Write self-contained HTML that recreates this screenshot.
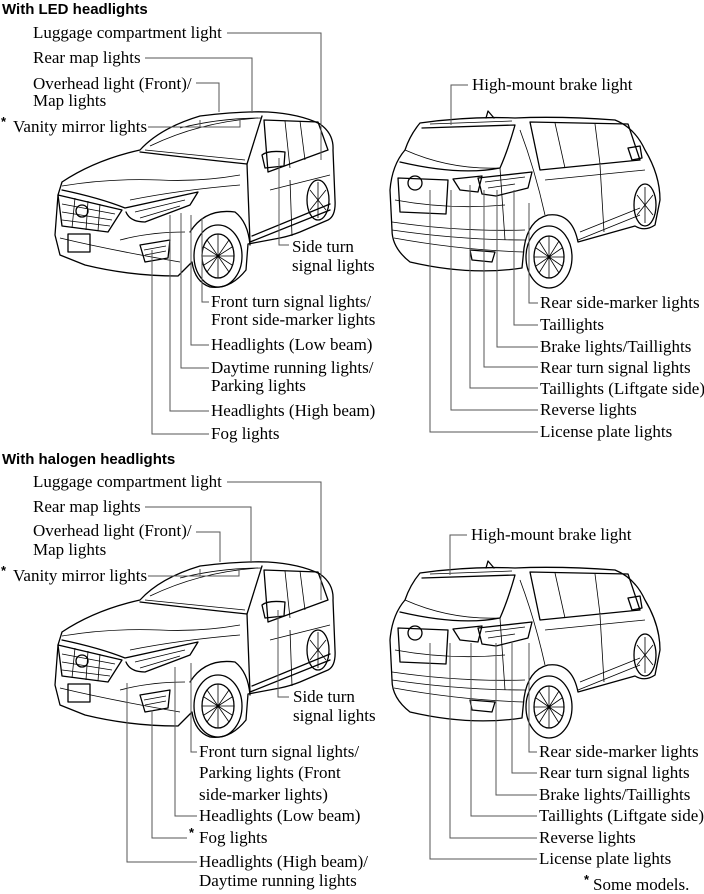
<!DOCTYPE html>
<html><head><meta charset="utf-8"><style>
html,body{margin:0;padding:0;background:#fff;}
svg{display:block;}
.t{font-family:"Liberation Serif",serif;font-size:17px;fill:#000;}
.s{font-family:"Liberation Sans",sans-serif;font-size:13px;font-weight:bold;fill:#000;}
.h{font-family:"Liberation Sans",sans-serif;font-size:15px;font-weight:bold;fill:#000;}
.l{fill:none;stroke:#555;stroke-width:1;}
.c{fill:none;stroke:#000;stroke-width:1.3;stroke-linejoin:round;stroke-linecap:round;}
.c2{fill:none;stroke:#000;stroke-width:0.8;}
</style></head><body>
<svg width="704" height="894" viewBox="0 0 704 894" xmlns="http://www.w3.org/2000/svg">
<defs>
<g id="front">
 <path class="c" d="M58,195 L62,182 Q95,160 140,150 Q160,128 200,116 Q240,111 268,112 Q300,114 320,124 Q334,134 333,150 L335,200 Q336,216 328,220 L300,232 Q290,236 280,238 L248,244 L246,270 Q230,290 210,287 Q195,282 192,262 L178,276 Q130,276 85,265 L60,255 L55,235 Z"/>
 <path class="c" d="M140,152 Q190,158 247,164 L262,116"/>
 <path class="c2" d="M145,150 Q195,155 245,160 M150,146 Q200,122 258,118"/>
 <path class="c" d="M247,164 L250,242"/>
 <path class="c2" d="M62,186 Q110,178 160,180 Q200,182 240,175 M130,200 Q180,190 240,185 M120,240 Q150,232 185,232 M60,238 Q110,250 180,262"/>
 <path class="c" d="M62,190 Q100,198 125,208 L198,192 L190,205 L145,222 Q130,222 126,212"/>
 <path class="c2" d="M135,212 L185,200 M140,218 L180,206"/>
 <path class="c" d="M58,195 L62,226 L108,232 L122,210 Z"/>
 <path class="c2" d="M62,204 L115,214 M62,212 L112,220 M62,220 L110,226 M75,198 L72,228 M88,201 L86,230 M100,204 L98,231"/>
 <circle class="c" cx="82" cy="211" r="6"/>
 <rect class="c" x="68" y="234" width="22" height="18"/>
 <path class="c" d="M140,245 L170,240 L168,258 L145,262 Z"/>
 <path class="c2" d="M144,250 L166,246 M145,255 L166,251"/>
 <ellipse class="c" cx="218" cy="256" rx="24" ry="31"/>
 <ellipse class="c" cx="218" cy="256" rx="16" ry="22"/>
 <path class="c2" d="M218,234 L218,278 M202,256 L234,256 M207,240 L229,272 M229,240 L207,272 M204,247 L232,265 M232,247 L204,265"/>
 <path class="c" d="M190,232 Q205,208 235,212 Q248,222 250,245"/>
 <path class="c" d="M250,242 L330,210"/>
 <path class="c" d="M252,236 L330,204"/>
 <ellipse class="c" cx="318" cy="200" rx="11" ry="20"/>
 <path class="c2" d="M318,182 L318,218 M310,190 L326,210 M326,190 L310,210"/>
 <path class="c" d="M264,120 L318,122 L328,150 L268,172 Z"/>
 <path class="c2" d="M285,121 L290,168 M300,121 L305,160 M270,190 L330,175 M290,180 L292,236"/>
 <path class="c" d="M262,155 Q268,150 285,152 L284,166 L265,168 Z"/>
 <path class="c2" d="M180,128 Q220,118 262,118"/>
</g>
<g id="rear">
 <path class="c" d="M420,123 Q470,116 515,118 Q560,116 615,120 Q635,128 645,150 Q660,175 660,200 L655,225 Q645,232 635,226 L578,242 Q572,212 548,215 Q528,220 524,248 L522,268 Q470,276 410,262 Q392,248 392,230 L390,190 Q392,165 405,150 Q410,135 420,123 Z"/>
 <path class="c" d="M422,128 L515,125 Q508,150 500,168 Q460,176 400,162"/>
 <path class="c2" d="M430,124 L512,121 M405,150 Q450,170 500,168 M500,168 L505,240 M395,200 Q450,210 505,205"/>
 <path class="c" d="M486,118 L488,111 L494,118"/>
 <path class="c" d="M530,122 L628,124 L640,160 L540,170 Z"/>
 <path class="c2" d="M555,123 L565,168 M595,124 L600,164 M545,180 L645,170 M600,165 L604,232"/>
 <path class="c" d="M453,179 L482,176 L478,192 L460,190 Z"/>
 <path class="c" d="M478,178 L532,172 L528,188 L496,196 L482,194 Z"/>
 <path class="c2" d="M485,182 L525,177 M488,188 L515,184"/>
 <path class="c" d="M398,178 L448,180 L446,214 L400,212 Z"/>
 <circle class="c" cx="415" cy="183" r="7"/>
 <path class="c2" d="M392,230 Q460,240 525,240 M394,238 Q460,250 524,252 M392,222 Q460,232 525,230"/>
 <path class="c" d="M470,250 L495,252 L492,262 L472,260 Z"/>
 <ellipse class="c" cx="549" cy="257" rx="23" ry="31"/>
 <ellipse class="c" cx="549" cy="257" rx="15" ry="21"/>
 <path class="c2" d="M549,236 L549,278 M534,257 L564,257 M539,241 L559,273 M559,241 L539,273 M536,248 L562,266 M562,248 L536,266"/>
 <ellipse class="c" cx="645" cy="205" rx="11" ry="21"/>
 <path class="c2" d="M645,187 L645,223 M637,195 L653,215 M653,195 L637,215"/>
 <path class="c2" d="M578,240 L640,215 M580,232 L640,208 M520,130 Q535,170 545,215"/>
 <path class="c" d="M628,148 L640,146 L642,158 L632,160 Z"/>
</g>
</defs>

<!-- TOP -->
<text class="h" x="2" y="14">With LED headlights</text>
<use href="#front"/>
<use href="#rear"/>
<g class="t">
<text x="33" y="38">Luggage compartment light</text>
<text x="33" y="63">Rear map lights</text>
<text x="33" y="89">Overhead light (Front)/</text>
<text x="33" y="106">Map lights</text>
<text x="13" y="132">Vanity mirror lights</text>
<text x="292" y="252">Side turn</text>
<text x="292" y="271">signal lights</text>
<text x="211" y="307">Front turn signal lights/</text>
<text x="211" y="325">Front side-marker lights</text>
<text x="211" y="350">Headlights (Low beam)</text>
<text x="211" y="373">Daytime running lights/</text>
<text x="211" y="391">Parking lights</text>
<text x="211" y="416">Headlights (High beam)</text>
<text x="211" y="439">Fog lights</text>
<text x="472" y="90">High-mount brake light</text>
<text x="540" y="308">Rear side-marker lights</text>
<text x="540" y="330">Taillights</text>
<text x="540" y="352">Brake lights/Taillights</text>
<text x="540" y="373">Rear turn signal lights</text>
<text x="540" y="394">Taillights (Liftgate side)</text>
<text x="540" y="415">Reverse lights</text>
<text x="540" y="437">License plate lights</text>
</g>
<text class="s" x="1" y="126">*</text>
<path class="l" d="M227,33 H321 V160 M145,58 H252 V113 M196,83 H219 V112 M148,127 H240 V120 M200,127 V120
M279,158 V245 H289 M202,218 V302 H209 M191,215 V345 H209 M181,213 V368 H209 M170,215 V411 H209 M152,250 V434 H209
M451,125 V85 H468 M529,203 V303 H538 M514,190 V325 H538 M497,190 V347 H538 M484,190 V367 H538 M470,185 V388 H538 M451,190 V410 H538 M430,190 V432 H538"/>

<!-- BOTTOM -->
<text class="h" x="2" y="464">With halogen headlights</text>
<use href="#front" transform="translate(0,450)"/>
<use href="#rear" transform="translate(0,450)"/>
<g class="t">
<text x="33" y="487">Luggage compartment light</text>
<text x="33" y="512">Rear map lights</text>
<text x="33" y="536">Overhead light (Front)/</text>
<text x="33" y="555">Map lights</text>
<text x="13" y="581">Vanity mirror lights</text>
<text x="293" y="702">Side turn</text>
<text x="293" y="721">signal lights</text>
<text x="199" y="757">Front turn signal lights/</text>
<text x="199" y="778">Parking lights (Front</text>
<text x="199" y="800">side-marker lights)</text>
<text x="199" y="821">Headlights (Low beam)</text>
<text x="199" y="843">Fog lights</text>
<text x="199" y="867">Headlights (High beam)/</text>
<text x="199" y="886">Daytime running lights</text>
<text x="471" y="540">High-mount brake light</text>
<text x="539" y="757">Rear side-marker lights</text>
<text x="539" y="778">Rear turn signal lights</text>
<text x="539" y="800">Brake lights/Taillights</text>
<text x="539" y="821">Taillights (Liftgate side)</text>
<text x="539" y="843">Reverse lights</text>
<text x="539" y="864">License plate lights</text>
<text x="593" y="890">Some models.</text>
</g>
<text class="s" x="1" y="575">*</text>
<text class="s" x="189" y="837">*</text>
<text class="s" x="584" y="884">*</text>
<path class="l" d="M227,482 H321 V600 M145,507 H251 V563 M196,532 H220 V562 M148,576 H239 V569 M200,576 V569
M278,610 V697 H289 M191,663 V752 H197 M175,667 V816 H197 M152,710 V838 H187 M127,683 V862 H197
M450,575 V535 H467 M529,643 V752 H537 M512,643 V773 H537 M496,643 V795 H537 M471,643 V816 H537 M450,643 V838 H537 M430,643 V859 H537"/>
</svg>
</body></html>
